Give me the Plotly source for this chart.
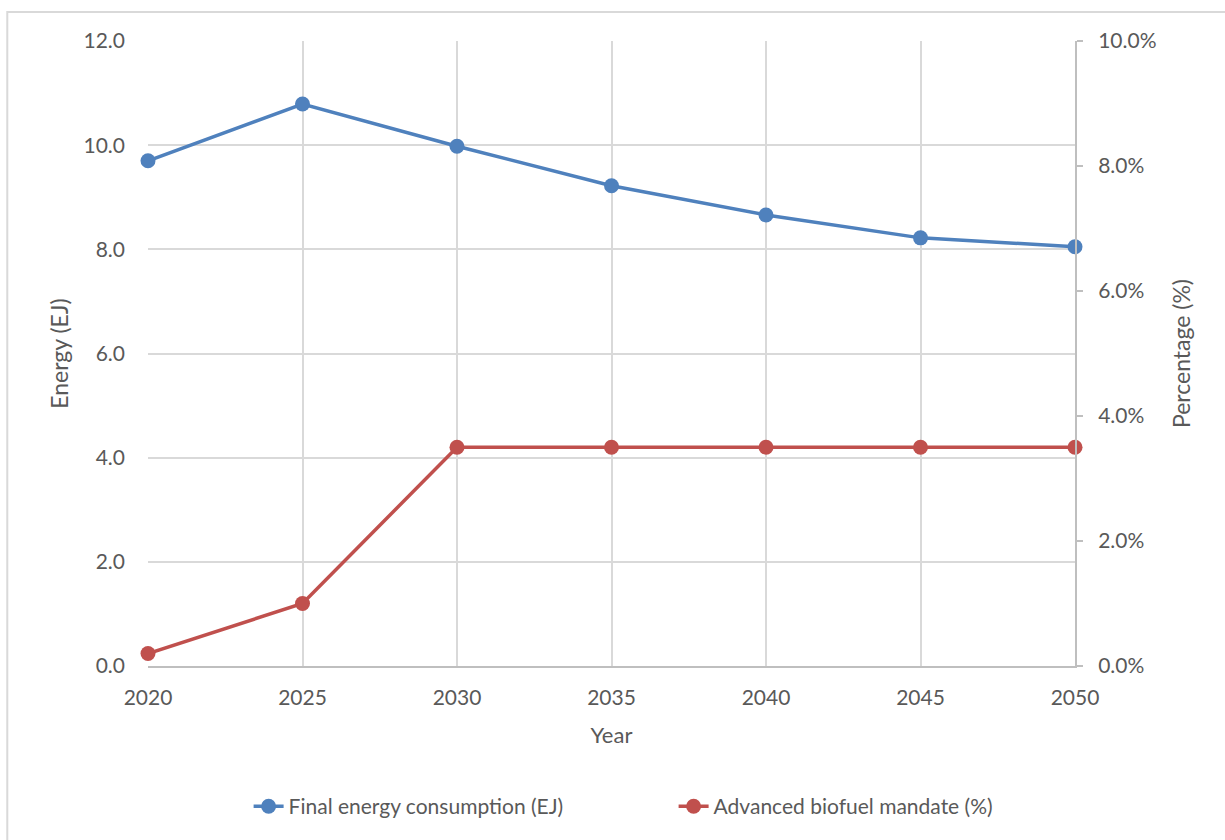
import plotly.graph_objects as go

years = [2020, 2025, 2030, 2035, 2040, 2045, 2050]
energy_ej = [9.70, 10.79, 9.98, 9.22, 8.66, 8.22, 8.05]
biofuel_pct = [0.2, 1.0, 3.5, 3.5, 3.5, 3.5, 3.5]

energy_ticks = [0, 2, 4, 6, 8, 10, 12]
pct_ticks = [0, 2, 4, 6, 8, 10]

FONT = "Lato"
TXT = "#595959"
GRID = "#d9d9d9"
AX = "#bfbfbf"

fig = go.Figure()
fig.add_trace(go.Scatter(
    x=years, y=energy_ej, name="Final energy consumption (EJ)",
    mode="lines+markers", line=dict(color="#4F81BD", width=3.5),
    marker=dict(size=15, color="#4F81BD"), yaxis="y", cliponaxis=False))
fig.add_trace(go.Scatter(
    x=years, y=biofuel_pct, name="Advanced biofuel mandate (%)",
    mode="lines+markers", line=dict(color="#C0504D", width=3.5),
    marker=dict(size=15, color="#C0504D"), yaxis="y2", cliponaxis=False))

fig.update_layout(
    width=1225, height=840,
    paper_bgcolor="white", plot_bgcolor="white",
    margin=dict(l=148, r=150, t=41, b=174, autoexpand=False),
    font=dict(family=FONT, color=TXT, size=21),
    xaxis=dict(
        range=[2020, 2050], tickvals=years, ticktext=[str(y) for y in years],
        showgrid=True, gridcolor=GRID, gridwidth=1.5,
        showline=True, linecolor=AX, linewidth=2, ticks="",
        ticklabelstandoff=12,
        title=dict(text="Year", font=dict(size=22), standoff=19),
        zeroline=False, tickfont=dict(size=21),
    ),
    yaxis=dict(
        range=[0, 12], tickvals=energy_ticks,
        ticktext=[f"{v:.1f}" for v in energy_ticks],
        showgrid=True, gridcolor=GRID, gridwidth=1.5, zeroline=False,
        showline=False, ticks="", ticklabelstandoff=22,
        title=dict(text="Energy (EJ)", font=dict(size=23), standoff=8),
        tickfont=dict(size=21),
    ),
    yaxis2=dict(
        range=[0, 10], tickvals=pct_ticks,
        ticktext=[f"{v:.1f}%" for v in pct_ticks],
        overlaying="y", side="right", showgrid=False, zeroline=False,
        showline=True, linecolor=AX, linewidth=2,
        ticks="outside", ticklen=6, tickcolor=AX, tickwidth=2,
        ticklabelstandoff=11,
        title=dict(text="Percentage (%)", font=dict(size=23), standoff=18),
        tickfont=dict(size=21),
    ),
    legend=dict(
        orientation="h", x=0.567, xanchor="center", y=-0.225, yanchor="middle",
        font=dict(size=21), entrywidth=380, entrywidthmode="pixels",
        tracegroupgap=0,
    ),
    shapes=[dict(type="rect", xref="paper", yref="paper",
                 x0=-0.1518, x1=1.2, y0=-0.5, y1=1.0463,
                 line=dict(color="#d9d9d9", width=2), layer="below")],
)

fig.write_html("out.html")
